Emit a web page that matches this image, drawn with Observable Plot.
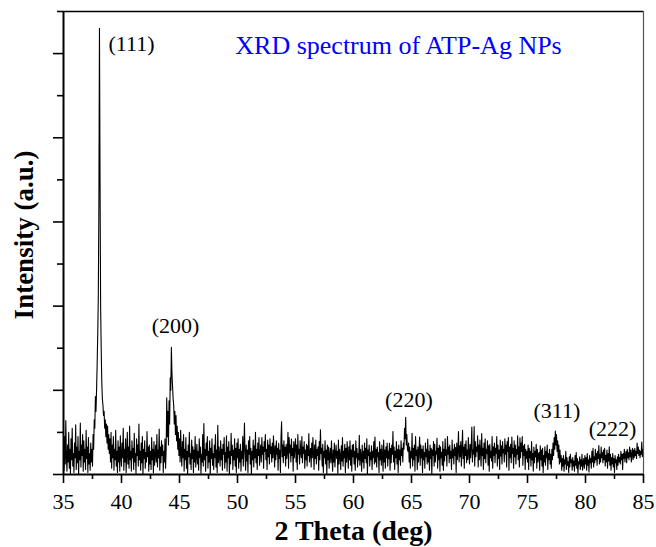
<!DOCTYPE html>
<html>
<head>
<meta charset="utf-8">
<script src="https://cdn.jsdelivr.net/npm/d3@7"></script>
<script src="https://cdn.jsdelivr.net/npm/@observablehq/plot@0.6"></script>
<style>
  html, body { margin: 0; padding: 0; background: #fff; }
  svg text { font-family: "Liberation Serif", "Times New Roman", serif; }
</style>
</head>
<body>
<div id="chart"></div>
<script>
// Sampling grid of the spectrum (2θ in degrees)
const startDeg = 35;
const stepDeg = 0.05;

// Intensity (a.u.), one value per 0.05°, in 5° blocks
const i35 = [55,10,90,25,128,40,8,70,30,100, 15,60,3,85,35,110,20,50,5,75,
             40,118,12,65,28,90,0,55,35,122, 18,70,45,95,8,80,30,60,12,105,
             38,65,5,88,25,50,10,75,30,60, 20,95,60,130,110,185,150,200,260,330,
             420,640,1060,700,400,300,220,180,165,140, 150,110,130,90,120,75,115,60,95,50,
             85,30,100,15,70,40,90,10,60,35, 105,20,55,5,80,30,65,8,92,45];
const i40 = [20,75,40,110,10,60,30,85,5,50, 100,25,65,15,115,35,55,8,80,40,
             62,12,98,30,50,3,85,45,70,20, 120,35,55,10,75,28,90,0,60,38,
             80,15,52,30,102,42,65,8,70,25, 55,12,88,35,60,4,78,22,48,70,
             30,95,18,58,40,108,10,65,28,80, 45,70,5,55,30,85,15,60,182,90,
             150,70,175,120,230,200,302,240,210,180, 165,120,150,95,140,80,115,60,100,45];
const i45 = [85,30,105,50,20,78,40,95,8,60, 35,88,15,55,0,70,42,100,25,50,
             12,82,38,66,5,58,30,90,18,45, 72,25,55,10,85,40,65,3,48,30,
             95,20,121,35,60,8,75,45,90,15, 55,30,80,0,62,38,85,22,50,12,
             70,40,95,18,58,5,117,28,66,45, 20,80,35,60,10,72,48,88,15,52,
             30,92,8,65,40,78,0,55,25,98, 45,70,12,58,35,85,20,62,5,75];
const i50 = [40,85,15,60,30,72,8,55,38,90, 20,66,122,45,10,70,32,58,5,80,
             48,90,25,62,0,55,35,82,18,68, 40,100,28,60,12,75,45,88,22,50,
             70,30,88,48,65,15,78,55,95,35, 60,12,82,42,70,25,85,50,66,30,
             75,40,92,55,18,68,35,80,48,62, 10,74,38,58,5,88,125,42,70,28,
             80,45,65,20,72,38,55,100,15,88, 52,70,30,84,45,62,8,78,40,66];
const i55 = [85,30,70,12,95,48,60,25,80,55, 40,90,28,65,50,78,15,58,35,72,
             20,68,45,97,30,55,62,18,75,40, 88,50,12,70,38,82,25,60,45,66,
             10,78,35,106,50,62,20,72,5,55, 40,80,25,58,0,70,35,65,15,48,
             62,28,80,42,8,58,30,75,18,50, 70,38,55,3,82,25,60,45,12,68,
             32,88,20,55,40,72,5,62,30,78, 48,15,66,35,80,22,58,8,70,42];
const i60 = [72,25,55,10,80,40,62,18,50,35, 93,22,60,45,8,70,30,55,15,75,
             38,62,28,85,0,58,45,70,20,52, 35,68,12,55,40,78,25,89,30,60,
             18,65,42,52,5,78,35,60,22,70, 45,8,82,30,58,15,66,40,75,20,
             56,38,74,10,62,28,70,48,102,30, 65,12,55,40,78,25,60,5,70,35,
             58,22,80,45,62,30,75,60,110,85, 136,70,95,60,55,75,30,65,15,55];
const i65 = [40,98,20,62,35,70,8,90,45,58, 12,66,30,55,89,22,70,40,60,5,
             68,35,52,15,75,42,60,25,84,30, 55,10,70,38,62,0,58,45,78,20,
             72,30,55,48,86,15,62,35,70,8, 66,40,52,22,78,10,60,32,85,45,
             58,20,90,48,65,28,70,38,55,12, 82,40,60,25,72,45,64,5,75,35,
             55,102,30,68,42,78,20,60,105,38, 65,15,72,45,80,28,58,36,88,50];
const i70 = [25,72,40,66,113,30,58,48,114,20, 78,42,65,55,92,18,70,35,82,50,
             20,97,45,62,12,75,38,85,28,60, 50,80,22,68,8,72,40,55,32,90,
             15,66,45,75,28,62,50,90,20,70, 38,58,12,82,44,68,25,78,52,60,
             30,85,48,70,18,78,55,88,10,65, 40,72,28,89,50,62,15,80,42,70,
             25,60,48,92,35,66,18,87,40,75, 55,90,22,68,45,72,12,60,38,55];
const i75 = [30,70,12,62,40,55,20,78,35,50, 8,65,28,55,42,72,15,60,30,48,
             52,10,68,35,58,20,62,5,45,30, 66,22,55,40,70,12,50,35,60,25,
             48,15,60,35,75,45,88,60,103,70, 95,55,80,40,70,25,58,30,45,10,
             38,20,45,8,35,25,55,12,40,22, 30,5,42,18,48,28,35,10,40,20,
             32,8,45,22,52,15,38,3,30,25, 42,12,35,20,48,10,28,38,15,45];
const i80 = [25,40,10,50,22,35,6,45,28,38, 15,55,30,62,18,42,28,60,35,50,
             22,55,38,69,25,48,30,65,40,52, 28,58,35,62,20,45,30,58,15,50,
             32,66,22,48,10,40,25,50,18,38, 5,45,28,35,12,42,22,48,30,40,
             25,55,35,48,12,50,38,60,30,45, 55,28,60,40,52,35,65,42,58,30,
             48,62,35,58,40,62,45,55,38,75, 50,65,45,58,40,55,48,77,42,60,
             50];

const intensity = [...i35, ...i40, ...i45, ...i50, ...i55, ...i60, ...i65, ...i70, ...i75, ...i80];
const spectrum = intensity.map((v, i) => ({theta: Math.round((startDeg + i * stepDeg) * 100) / 100, v}));

// Peak annotations (Miller indices) in data coordinates
const peakLabels = ["(111)", "(200)", "(220)", "(311)", "(222)"];
const peakLabelX = [40.86, 44.66, 64.78, 77.54, 82.33];
const peakLabelY = [1024, 352, 176, 150, 109];
const peaks = peakLabels.map((t, i) => ({t, x: peakLabelX[i], y: peakLabelY[i]}));

const titleText = "XRD spectrum of ATP-Ag NPs";
const xLabel = "2 Theta (deg)";
const yLabel = "Intensity (a.u.)";
const xTicks = [35, 40, 45, 50, 55, 60, 65, 70, 75, 80, 85];
const xMinor = [37.5, 42.5, 47.5, 52.5, 57.5, 62.5, 67.5, 72.5, 77.5, 82.5];
const yMajor = [0, 200, 400, 600, 800, 1000];
const yMinor = [100, 300, 500, 700, 900, 1100];

const serif = "Liberation Serif";

const chart = Plot.plot({
  width: 656,
  height: 547,
  marginLeft: 63,
  marginRight: 13,
  marginTop: 11,
  marginBottom: 73,
  x: {domain: [35, 85]},
  y: {domain: [0, 1100]},
  style: {fontFamily: serif, background: "white", color: "black"},
  marks: [
    Plot.line(spectrum, {x: "theta", y: "v", stroke: "black", strokeWidth: 1.1}),
    // frame
    Plot.ruleY([1100], {stroke: "black", strokeWidth: 1.5}),
    Plot.ruleX([85], {stroke: "#555", strokeWidth: 1.2}),
    Plot.ruleY([0], {stroke: "black", strokeWidth: 2}),
    Plot.ruleX([35], {stroke: "black", strokeWidth: 2}),
    // axes
    Plot.axisX({ticks: xTicks, tickSize: 9, tickPadding: 10, fontSize: 22, fontFamily: serif, label: null, strokeWidth: 1.6, tickFormat: d => String(d)}),
    Plot.axisX({ticks: xMinor, tickSize: 5, label: null, strokeWidth: 1.6, tickFormat: () => ""}),
    Plot.axisY({ticks: yMajor, tickSize: 10, label: null, strokeWidth: 1.6, tickFormat: () => ""}),
    Plot.axisY({ticks: yMinor, tickSize: 6, label: null, strokeWidth: 1.6, tickFormat: () => ""}),
    // axis titles
    Plot.text([xLabel], {frameAnchor: "bottom", dy: 57, lineAnchor: "middle", textAnchor: "middle", fontSize: 28, fontWeight: "bold", fontFamily: serif, fill: "black"}),
    Plot.text([yLabel], {frameAnchor: "left", dx: -39, dy: -8, rotate: -90, lineAnchor: "middle", textAnchor: "middle", fontSize: 27, fontWeight: "bold", fontFamily: serif, fill: "black"}),
    // annotations
    Plot.text(peaks, {x: "x", y: "y", text: "t", fontSize: 22, fontFamily: serif, fill: "black"}),
    Plot.text([titleText], {x: 63.88, y: 1020, fontSize: 26, fontFamily: serif, fill: "#0000ff"})
  ]
});
document.getElementById("chart").appendChild(chart);
</script>
</body>
</html>
